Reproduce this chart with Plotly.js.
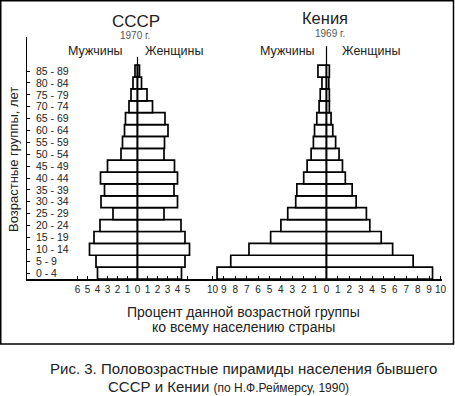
<!DOCTYPE html>
<html>
<head>
<meta charset="utf-8">
<script src="https://cdn.plot.ly/plotly-3.0.1.min.js"></script>
<style>
  html, body { margin: 0; padding: 0; background: #fff; }
  #chart { width: 455px; height: 396px; }
</style>
</head>
<body>
<div id="chart"></div>
<script>
// Age groups (bottom to top)
const ageGroups = ["0 - 4","5 - 9","10 - 14","15 - 19","20 - 24","25 - 29","30 - 34","35 - 39",
  "40 - 44","45 - 49","50 - 54","55 - 59","60 - 64","65 - 69","70 - 74","75 - 79","80 - 84","85 - 89"];

// USSR 1970, % of total population
const ussrMale   = [4.0, 4.15, 4.8, 4.35, 3.75, 2.45, 3.65, 3.3, 3.7, 3.0, 1.65, 1.5, 1.3, 1.2, 0.85, 0.65, 0.45, 0.25];
const ussrFemale = [4.4, 4.75, 5.2, 4.75, 4.35, 2.65, 4.0, 3.65, 4.0, 3.7, 2.65, 2.7, 3.05, 2.75, 1.5, 0.95, 0.4, 0.2];

// Kenya 1969, % of total population
const kenyaMale   = [9.6, 8.4, 6.8, 4.9, 4.0, 3.4, 2.7, 2.6, 2.0, 1.7, 1.35, 1.15, 1.05, 0.85, 0.65, 0.55, 0.4, 0.75];
const kenyaFemale = [9.3, 7.6, 5.8, 4.8, 3.8, 3.5, 2.6, 2.25, 1.65, 1.4, 1.1, 0.8, 0.55, 0.4, 0.25, 0.25, 0.2, 0.25];

// Tick labels
const ussrTicks  = [-6,-5,-4,-3,-2,-1,0,1,2,3,4,5];
const kenyaTicks = [-10,-9,-8,-7,-6,-5,-4,-3,-2,-1,0,1,2,3,4,5,6,7,8,9,10];

// ---- layout geometry (pixels) ----
const W = 455, H = 396;
const L = 27, R = 442, T = 37, B = 279;
const pw = R - L, ph = B - T;
const split = 199;
const px2x = p => (p - L) / pw;
const py2y = p => (B - p) / ph;

const barStyle = { color: "#ffffff", line: { color: "#000000", width: 1.7 } };
const neg = a => a.map(v => -v);

const traces = [
  { type: "bar", orientation: "h", y: ageGroups, x: neg(ussrMale), xaxis: "x", yaxis: "y", marker: barStyle, name: "Мужчины" },
  { type: "bar", orientation: "h", y: ageGroups, x: ussrFemale, xaxis: "x", yaxis: "y", marker: barStyle, name: "Женщины" },
  { type: "bar", orientation: "h", y: ageGroups, x: neg(kenyaMale), xaxis: "x2", yaxis: "y", marker: barStyle, name: "Мужчины" },
  { type: "bar", orientation: "h", y: ageGroups, x: kenyaFemale, xaxis: "x2", yaxis: "y", marker: barStyle, name: "Женщины" }
];

const ussrCenter = 137.5, ussrScale = 10;
const kenCenter = 326.5, kenScale = 11.4;

const tickFont = { family: "Arial, 'Liberation Sans', sans-serif", size: 10, color: "#222" };
const axisCommon = {
  showgrid: false, zeroline: false, showline: true, linecolor: "#000", linewidth: 1.5,
  ticks: "inside", ticklen: 3, tickwidth: 1, tickcolor: "#000",
  tickfont: tickFont, tickangle: 0, fixedrange: true, anchor: "y",
  tickmode: "array", ticklabeloverflow: "allow"
};

const bandPx = 11.88;
const layout = {
  width: W, height: H,
  margin: { l: L, r: W - R, t: T, b: H - B, pad: 0 },
  paper_bgcolor: "#fff", plot_bgcolor: "#fff",
  showlegend: false,
  barmode: "overlay", bargap: 0,
  font: { family: "Arial, 'Liberation Sans', sans-serif", color: "#222" },
  xaxis: Object.assign({}, axisCommon, {
    domain: [0, px2x(split)],
    range: [-(ussrCenter - L) / ussrScale, (split - ussrCenter) / ussrScale],
    tickvals: ussrTicks, ticktext: ussrTicks.map(v => String(Math.abs(v)))
  }),
  xaxis2: Object.assign({}, axisCommon, {
    domain: [px2x(split), 1],
    range: [-(kenCenter - split) / kenScale, (R - kenCenter) / kenScale],
    tickvals: kenyaTicks, ticktext: kenyaTicks.map(v => String(Math.abs(v)))
  }),
  yaxis: {
    type: "category", domain: [0, 1], anchor: "x",
    range: [-0.5, -0.5 + ph / bandPx],
    tickmode: "array", tickvals: ageGroups, ticktext: ageGroups,
    showgrid: false, zeroline: false, showline: true, linecolor: "#000", linewidth: 1.5,
    ticks: "inside", ticklen: 3, tickcolor: "#000",
    ticklabelposition: "inside", ticklabelstandoff: 5, ticklabeloverflow: "allow",
    tickfont: { family: "Arial, 'Liberation Sans', sans-serif", size: 10.5, color: "#222" },
    fixedrange: true
  },
  shapes: [
    { type: "line", xref: "x", yref: "y", x0: 0, x1: 0, y0: -0.5, y1: 18.2, line: { color: "#000", width: 1.2 } },
    { type: "line", xref: "x2", yref: "y", x0: 0, x1: 0, y0: -0.5, y1: 19.1, line: { color: "#000", width: 1.2 } },
    { type: "rect", xref: "paper", yref: "paper", x0: px2x(0.75), x1: px2x(453.5), y0: py2y(344), y1: py2y(0.75),
      line: { color: "#000", width: 1.5 }, fillcolor: "rgba(0,0,0,0)", layer: "above" }
  ],
  annotations: []
};

function ann(text, x, y, size, color) {
  layout.annotations.push({
    text: text, xref: "paper", yref: "paper", x: px2x(x), y: py2y(y),
    xanchor: "center", yanchor: "middle", showarrow: false,
    font: { family: "Arial, 'Liberation Sans', sans-serif", size: size, color: color || "#222" }
  });
}
ann("СССР", 136, 21, 17);
ann("1970 г.", 135, 35, 10, "#555");
ann("Мужчины", 95, 51, 12.5);
ann("Женщины", 174, 51, 12.5);
ann("Кения", 325, 18, 16.5);
ann("1969 г.", 330, 33, 10, "#555");
ann("Мужчины", 287, 51, 12.5);
ann("Женщины", 371, 51, 12.5);
ann("Процент данной возрастной группы", 243, 312, 14);
ann("ко всему населению страны", 243, 327, 14);
ann("Рис. 3. Половозрастные пирамиды населения бывшего", 243, 368, 15);
ann("СССР и Кении <span style='font-size:12px'>(по Н.Ф.Реймерсу, 1990)</span>", 228, 386, 15);

layout.annotations.push({
  text: "Возрастные группы, лет", xref: "paper", yref: "paper", x: px2x(13), y: py2y(160),
  xanchor: "center", yanchor: "middle", textangle: -90, showarrow: false,
  font: { family: "Arial, 'Liberation Sans', sans-serif", size: 13, color: "#222" }
});

Plotly.newPlot("chart", traces, layout, { staticPlot: true, displayModeBar: false });
</script>
</body>
</html>
